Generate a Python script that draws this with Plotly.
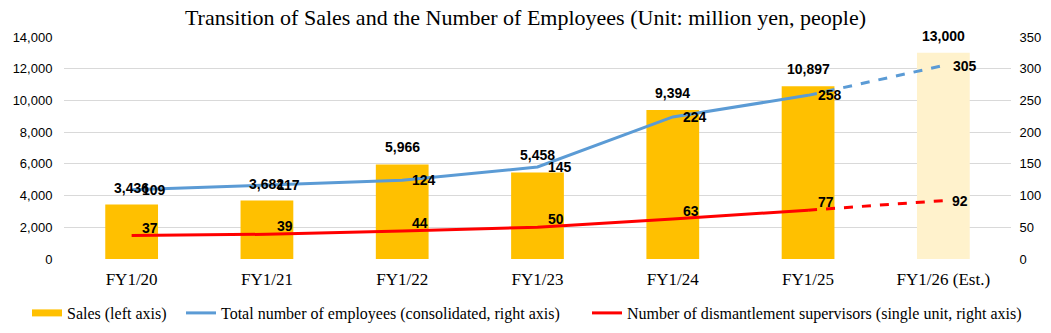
import plotly.graph_objects as go

categories = ["FY1/20", "FY1/21", "FY1/22", "FY1/23", "FY1/24", "FY1/25", "FY1/26 (Est.)"]
sales = [3436, 3682, 5966, 5458, 9394, 10897, 13000]
employees = [109, 117, 124, 145, 224, 258, 305]
supervisors = [37, 39, 44, 50, 63, 77, 92]
left_ticks = [0, 2000, 4000, 6000, 8000, 10000, 12000, 14000]
right_ticks = [0, 50, 100, 150, 200, 250, 300, 350]

BAR = "#FFC000"
BAR_EST = "#FFF2CC"
BLUE = "#5B9BD5"
RED = "#FF0000"
LABEL_FONT = dict(family="Liberation Sans, Arial, sans-serif", size=14, color="#000000", weight="bold")
SERIF = "Liberation Serif, Times New Roman, serif"
SANS = "Liberation Sans, Arial, sans-serif"
W, H = 1051, 333

fig = go.Figure()

fig.add_trace(go.Bar(
    x=categories, y=sales, name="Sales (left axis)", showlegend=False,
    marker=dict(color=[BAR] * (len(sales) - 1) + [BAR_EST], line=dict(width=0)),
    yaxis="y",
))
# legend entry for the bars (wide flat swatch like the original)
fig.add_trace(go.Scatter(
    x=[None], y=[None], mode="lines", name="Sales (left axis)",
    line=dict(color=BAR, width=7), yaxis="y", legend="legend",
))

# Employees: actual (solid) and estimate (dashed)
fig.add_trace(go.Scatter(
    x=categories[:-1], y=employees[:-1], mode="lines",
    name="Total number of employees (consolidated, right axis)",
    line=dict(color=BLUE, width=3), yaxis="y2", legend="legend2",
))
fig.add_trace(go.Scatter(
    x=categories[-2:], y=employees[-2:], mode="lines", showlegend=False,
    line=dict(color=BLUE, width=3, dash="dash"), yaxis="y2",
))

# Supervisors
fig.add_trace(go.Scatter(
    x=categories[:-1], y=supervisors[:-1], mode="lines",
    name="Number of dismantlement supervisors (single unit, right axis)",
    line=dict(color=RED, width=3), yaxis="y2", legend="legend3",
))
fig.add_trace(go.Scatter(
    x=categories[-2:], y=supervisors[-2:], mode="lines", showlegend=False,
    line=dict(color=RED, width=3, dash="dash"), yaxis="y2",
))

# Sales value labels above bars
for c, v in zip(categories, sales):
    fig.add_annotation(x=c, y=v, xref="x", yref="y", text=f"{v:,}", showarrow=False,
                       yanchor="bottom", yshift=7, font=LABEL_FONT)

# Employee labels (right of each point)
for c, v in zip(categories, employees):
    fig.add_annotation(x=c, y=v, xref="x", yref="y2", text=str(v), showarrow=False,
                       xanchor="left", yanchor="middle", xshift=8, font=LABEL_FONT)

# Supervisor labels (above-right; the estimate sits level to the right)
n = len(supervisors)
for i, (c, v) in enumerate(zip(categories, supervisors)):
    last = i == n - 1
    fig.add_annotation(x=c, y=v, xref="x", yref="y2", text=str(v), showarrow=False,
                       xanchor="left", yanchor="middle", xshift=7 if last else 8,
                       yshift=0 if last else 8, font=LABEL_FONT)


def legend_at(px):
    return dict(orientation="h", x=px / W, xanchor="left", xref="container",
                y=1 - 313 / H, yanchor="middle", yref="container",
                font=dict(family=SERIF, size=16, color="#000000"), itemwidth=30,
                bgcolor="rgba(0,0,0,0)", borderwidth=0)


fig.update_layout(
    width=W, height=H,
    margin=dict(l=64, r=40, t=37, b=74, autoexpand=False),
    paper_bgcolor="white", plot_bgcolor="white",
    bargap=0.61,
    title=dict(text="Transition of Sales and the Number of Employees (Unit: million yen, people)",
               x=0.5, xanchor="center", y=1 - 17 / H, yanchor="middle",
               font=dict(family=SERIF, size=22, color="#000000")),
    xaxis=dict(tickfont=dict(family=SERIF, size=17, color="#000000"),
               showgrid=False, showline=False, ticks="outside", ticklen=5, tickcolor="white"),
    yaxis=dict(range=[0, 14000], tickvals=left_ticks, tickformat=",",
               tickfont=dict(family=SANS, size=13, color="#000000"),
               showgrid=True, gridcolor="#D9D9D9", gridwidth=1, zeroline=False,
               ticks="outside", ticklen=8, tickcolor="white"),
    yaxis2=dict(range=[0, 350], tickvals=right_ticks, overlaying="y", side="right",
                tickfont=dict(family=SANS, size=13, color="#000000"),
                showgrid=False, zeroline=False, ticks="outside", ticklen=5, tickcolor="white"),
    legend=legend_at(27),
    legend2=legend_at(181),
    legend3=legend_at(587),
    showlegend=True,
)

fig.write_html("out.html")
